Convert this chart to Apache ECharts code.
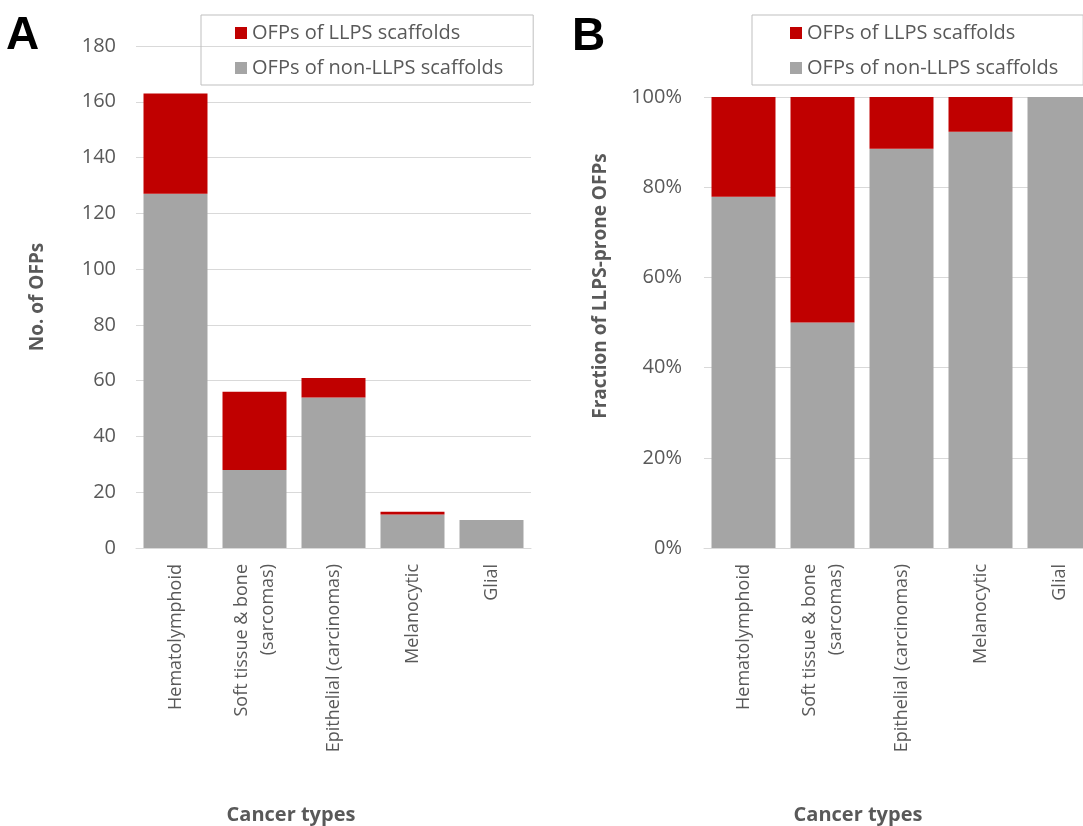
<!DOCTYPE html>
<html><head><meta charset="utf-8">
<script src="https://cdn.jsdelivr.net/npm/echarts@6/dist/echarts.min.js"></script>
<style>html,body{margin:0;padding:0;background:#fff}#c{width:1083px;height:826px}</style>
</head><body><div id="c"></div>
<script>
const categories = ['Hematolymphoid', 'Soft tissue & bone\n(sarcomas)', 'Epithelial (carcinomas)', 'Melanocytic', 'Glial'];
const countNonLLPS = [127, 28, 54, 12, 10];
const countLLPS = [36, 28, 7, 1, 0];
const fracNonLLPS = [77.9, 50, 88.5, 92.3, 100];
const fracLLPS = [22.1, 50, 11.5, 7.7, 0];
const seriesNames = ['OFPs of LLPS scaffolds', 'OFPs of non-LLPS scaffolds'];
const countTicks = [0, 20, 40, 60, 80, 100, 120, 140, 160, 180];
const fracTicks = ['0%', '20%', '40%', '60%', '80%', '100%'];

const FONT = '"Open Sans", "Liberation Sans", Arial, sans-serif';
const TXT = '#595959';
const RED = '#c00000', GRAY = '#a5a5a5';

const chart = echarts.init(document.getElementById('c'));
const xAxisBase = (gi) => ({
  type: 'category', gridIndex: gi, data: categories,
  axisTick: {show: false},
  axisLine: {lineStyle: {color: '#d9d9d9'}},
  axisLabel: {rotate: 90, color: TXT, fontSize: 18, fontFamily: FONT, margin: 16, lineHeight: 26, interval: 0}
});
const legendBase = {
  orient: 'vertical', data: seriesNames, itemWidth: 12, itemHeight: 12, itemGap: 11,
  borderColor: '#bfbfbf', borderWidth: 1, icon: 'rect',
  textStyle: {color: TXT, fontSize: 20, fontFamily: FONT, lineHeight: 24},
};
chart.setOption({
  animation: false,
  textStyle: {fontFamily: FONT},
  legend: [
    Object.assign({}, legendBase, {left: 201, top: 15, padding: [6, 30, 5, 34]}),
    Object.assign({}, legendBase, {left: 752, top: 15, padding: [6, 25, 5, 38]})
  ],
  grid: [
    {left: 136, width: 395, top: 46, bottom: 278, outerBoundsMode: 'none'},
    {left: 704, width: 395, top: 97, bottom: 278, outerBoundsMode: 'none'}
  ],
  xAxis: [xAxisBase(0), xAxisBase(1)],
  yAxis: [
    {type: 'value', gridIndex: 0, min: countTicks[0], max: countTicks[countTicks.length - 1], interval: 20,
     axisLine: {show: false}, axisTick: {show: false},
     splitLine: {lineStyle: {color: '#d9d9d9'}},
     axisLabel: {color: TXT, fontSize: 20, fontFamily: FONT, margin: 20}},
    {type: 'value', gridIndex: 1, min: 0, max: 100, interval: 20,
     axisLine: {show: false}, axisTick: {show: false},
     splitLine: {lineStyle: {color: '#d9d9d9'}},
     axisLabel: {color: TXT, fontSize: 20, fontFamily: FONT, margin: 22,
       formatter: (v) => fracTicks[Math.round(v / 20)]}}
  ],
  series: [
    {name: seriesNames[1], type: 'bar', stack: 'a', xAxisIndex: 0, yAxisIndex: 0, data: countNonLLPS,
     itemStyle: {color: GRAY}, barCategoryGap: '19%'},
    {name: seriesNames[0], type: 'bar', stack: 'a', xAxisIndex: 0, yAxisIndex: 0, data: countLLPS,
     itemStyle: {color: RED}, barCategoryGap: '19%'},
    {name: seriesNames[1], type: 'bar', stack: 'b', xAxisIndex: 1, yAxisIndex: 1, data: fracNonLLPS,
     itemStyle: {color: GRAY}, barCategoryGap: '19%'},
    {name: seriesNames[0], type: 'bar', stack: 'b', xAxisIndex: 1, yAxisIndex: 1, data: fracLLPS,
     itemStyle: {color: RED}, barCategoryGap: '19%'}
  ],
  graphic: [
    {type: 'text', x: 6, y: 36, style: {text: 'A', font: 'bold 46px "Liberation Sans", Arial, sans-serif', fill: '#000', align: 'left', verticalAlign: 'middle'}},
    {type: 'text', x: 572, y: 37, style: {text: 'B', font: 'bold 46px "Liberation Sans", Arial, sans-serif', fill: '#000', align: 'left', verticalAlign: 'middle'}},
    {type: 'text', x: 38, y: 297, rotation: Math.PI / 2,
     style: {text: 'No. of OFPs', font: 'bold 19px ' + FONT, fill: TXT, align: 'center', verticalAlign: 'middle'}},
    {type: 'text', x: 601, y: 286, rotation: Math.PI / 2,
     style: {text: 'Fraction of LLPS-prone OFPs', font: 'bold 19px ' + FONT, fill: TXT, align: 'center', verticalAlign: 'middle'}},
    {type: 'text', x: 291, y: 815,
     style: {text: 'Cancer types', font: 'bold 20px ' + FONT, fill: TXT, align: 'center', verticalAlign: 'middle'}},
    {type: 'text', x: 858, y: 815,
     style: {text: 'Cancer types', font: 'bold 20px ' + FONT, fill: TXT, align: 'center', verticalAlign: 'middle'}}
  ]
});
</script></body></html>
